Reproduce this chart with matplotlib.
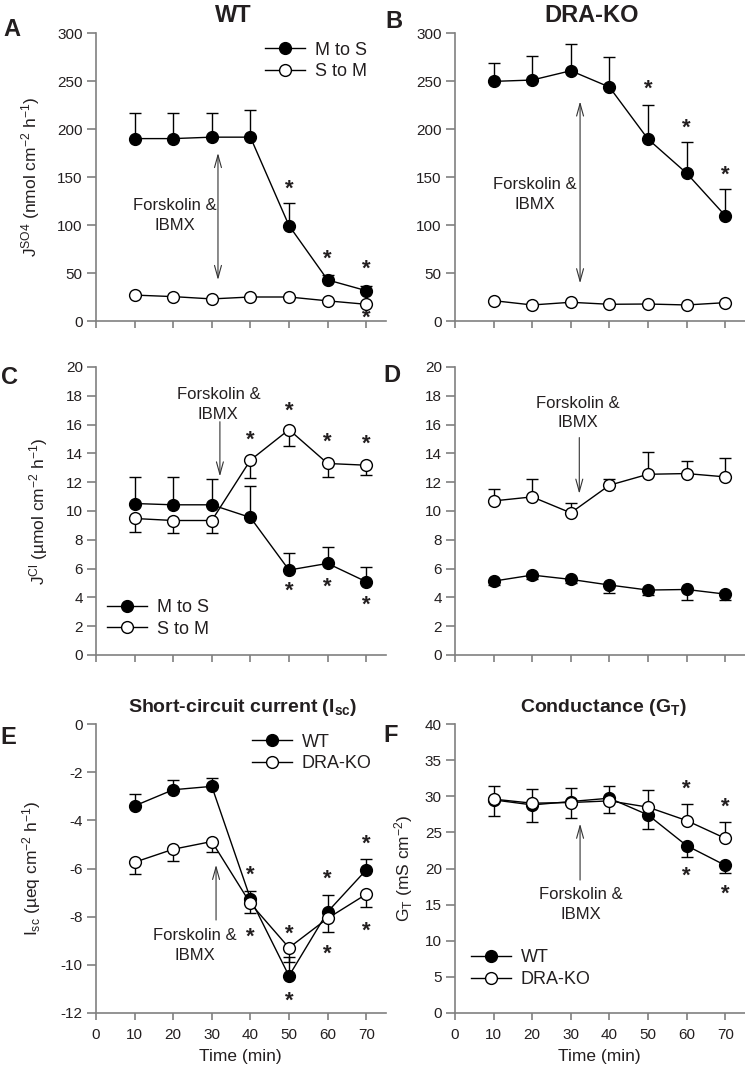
import matplotlib
matplotlib.use("Agg")
import matplotlib.pyplot as plt

plt.rcParams["font.family"] = ["Liberation Sans", "DejaVu Sans"]
plt.rcParams["mathtext.fontset"] = "custom"
plt.rcParams["mathtext.rm"] = "Liberation Sans"
plt.rcParams["mathtext.it"] = "Liberation Sans:italic"
plt.rcParams["mathtext.bf"] = "Liberation Sans:bold"
plt.rcParams["axes.unicode_minus"] = False

# --- Datos ---
time_min = [10, 20, 30, 40, 50, 60, 70]
time_ticks = [0, 10, 20, 30, 40, 50, 60, 70]

# A: flujo de sulfato, WT
so4_wt_ms = [190, 190, 191.5, 191.5, 99.4, 42.8, 31.6]
so4_wt_ms_up = [27, 27, 25, 28, 23, 5, 5]
so4_wt_sm = [27, 25.4, 23, 25, 25, 21, 17.4]
stars_a_x = [50, 60, 70, 70]
stars_a_y = [140, 67, 57, 6]

# B: flujo de sulfato, DRA-KO
so4_ko_ms = [249.6, 251, 260.7, 243.7, 189.5, 154, 109.8]
so4_ko_ms_up = [19, 25, 28, 31, 35, 32, 28]
so4_ko_sm = [21.2, 16.7, 19.5, 17.4, 17.7, 16.7, 19.1]
stars_b_x = [50, 60, 70]
stars_b_y = [244, 203, 154]

# C: flujo de cloruro, WT
cl_wt_ms = [10.52, 10.43, 10.43, 9.55, 5.9, 6.36, 5.09]
cl_wt_ms_up = [1.85, 1.94, 1.77, 2.22, 1.15, 1.11, 0.99]
cl_wt_sm = [9.48, 9.34, 9.34, 13.53, 15.65, 13.3, 13.18]
cl_wt_sm_lo = [0.97, 0.9, 0.9, 1.21, 1.15, 0.95, 0.65]
stars_c_x = [40, 50, 60, 70, 50, 60, 70]
stars_c_y = [15.1, 17.1, 14.95, 14.8, 4.6, 4.85, 3.6]

# D: flujo de cloruro, DRA-KO
cl_ko_ms = [5.13, 5.55, 5.25, 4.86, 4.51, 4.55, 4.23]
cl_ko_ms_lo = [0.27, 0.3, 0.28, 0.58, 0.37, 0.71, 0.39]
cl_ko_sm = [10.7, 10.98, 9.87, 11.79, 12.55, 12.6, 12.37]
cl_ko_sm_up = [0.86, 1.25, 0.7, 0.46, 1.55, 0.88, 1.34]

# E: corriente de cortocircuito
isc_wt = [-3.40, -2.73, -2.59, -7.25, -10.46, -7.8, -6.06]
isc_wt_up = [0.49, 0.41, 0.33, 0.3, 0.8, 0.7, 0.44]
isc_ko = [-5.74, -5.2, -4.88, -7.45, -9.29, -8.07, -7.07]
isc_ko_lo = [0.49, 0.47, 0.42, 0.4, 0.58, 0.55, 0.54]
stars_e_x = [40, 40, 50, 50, 60, 60, 70, 70]
stars_e_y = [-6.17, -8.77, -8.63, -11.4, -6.34, -9.46, -4.88, -8.49]

# F: conductancia
gt_wt = [29.5, 28.8, 29.27, 29.73, 27.42, 23.17, 20.44]
gt_wt_up = [1.85, 2.2, 1.9, 1.72, 0, 0, 0]
gt_wt_lo = [2.2, 2.4, 2.27, 2.08, 1.89, 1.57, 1.11]
gt_ko = [29.6, 29.04, 29.13, 29.36, 28.49, 26.64, 24.18]
gt_ko_up = [0, 0, 0, 0, 2.31, 2.31, 2.22]
stars_f_x = [60, 60, 70, 70]
stars_f_y = [31.35, 19.33, 28.8, 16.8]

ZEROS = [0] * len(time_min)
AXIS_GRAY = "#808080"
TEXT_DARK = "#231f20"
FIG_W, FIG_H = 745, 1080


def px_axes(left, top, right, bottom):
    return [left / FIG_W, 1 - bottom / FIG_H, (right - left) / FIG_W, (bottom - top) / FIG_H]


def style_axes(ax, ylim, yticks, show_xlabels):
    ax.set_xlim(0, 75)
    ax.set_ylim(*ylim)
    ax.set_xticks(time_ticks)
    ax.set_yticks(yticks)
    for side in ("top", "right"):
        ax.spines[side].set_visible(False)
    for side in ("left", "bottom"):
        ax.spines[side].set_color(AXIS_GRAY)
        ax.spines[side].set_linewidth(1.2)
    ax.tick_params(direction="out", color=AXIS_GRAY, width=1.2,
                   labelsize=11, labelcolor=TEXT_DARK)
    ax.tick_params(axis="y", length=6.5, pad=3)
    ax.tick_params(axis="x", length=5, pad=6, labelbottom=show_xlabels)
    if show_xlabels:
        ax.set_xlabel("Time (min)", fontsize=12.5, color=TEXT_DARK)
        ax.xaxis.set_label_coords(0.5, -0.125)
        ax.xaxis.label.set_va("top")


def draw_series(ax, y, lo, hi, filled, label):
    ax.errorbar(time_min, y, yerr=[lo, hi], fmt="none", ecolor="k",
                elinewidth=1, capsize=4.5, capthick=1, zorder=2)
    ax.plot(time_min, y, color="k", lw=1, marker="o", ms=8.5,
            mfc="k" if filled else "white", mec="k", mew=1,
            zorder=3 if filled else 4, label=label)


def draw_stars(ax, xs, ys):
    for x, y in zip(xs, ys):
        ax.text(x, y, "*", ha="center", va="center_baseline", fontsize=16,
                fontweight="bold", color=TEXT_DARK)


def treatment_label(ax, x, y):
    ax.text(x, y, "Forskolin &\nIBMX", ha="center", va="center",
            fontsize=12, color=TEXT_DARK, linespacing=1.4)


def arrow(ax, x, y_from, y_to, style):
    ax.annotate("", xy=(x, y_to), xytext=(x, y_from),
                arrowprops=dict(arrowstyle=style + ",head_length=0.9,head_width=0.25",
                                color="#333333", lw=0.8, shrinkA=0, shrinkB=0))


def legend(ax, x, y):
    ax.legend(loc="upper left", bbox_to_anchor=(x, y), frameon=False,
              fontsize=13, handlelength=2.2, handletextpad=0.55,
              labelspacing=0.25, borderpad=0, borderaxespad=0,
              labelcolor=TEXT_DARK)


fig = plt.figure(figsize=(FIG_W / 100, FIG_H / 100), dpi=100)

ax_a = fig.add_axes(px_axes(96, 33, 385.5, 321))
ax_b = fig.add_axes(px_axes(455, 33, 744.5, 321))
ax_c = fig.add_axes(px_axes(96, 367, 385.5, 655))
ax_d = fig.add_axes(px_axes(455, 367, 744.5, 655))
ax_e = fig.add_axes(px_axes(96, 724, 385.5, 1013))
ax_f = fig.add_axes(px_axes(455, 724, 744.5, 1013))

# --- A ---
draw_series(ax_a, so4_wt_ms, ZEROS, so4_wt_ms_up, True, "M to S")
draw_series(ax_a, so4_wt_sm, ZEROS, ZEROS, False, "S to M")
style_axes(ax_a, (0, 300), range(0, 301, 50), False)
draw_stars(ax_a, stars_a_x, stars_a_y)
arrow(ax_a, 31.6, 175, 42.7, "<->")
treatment_label(ax_a, 20.5, 109.5)
legend(ax_a, 0.584, 0.97)
ax_a.set_ylabel(r"J$^{\mathrm{SO4}}$ (nmol cm$^{-2}$ h$^{-1}$)", fontsize=12.5,
                color=TEXT_DARK)
ax_a.yaxis.set_label_coords(-0.187, 0.5)

# --- B ---
draw_series(ax_b, so4_ko_ms, ZEROS, so4_ko_ms_up, True, "M to S")
draw_series(ax_b, so4_ko_sm, ZEROS, ZEROS, False, "S to M")
style_axes(ax_b, (0, 300), range(0, 301, 50), False)
draw_stars(ax_b, stars_b_x, stars_b_y)
arrow(ax_b, 32.4, 228.7, 39.3, "<->")
treatment_label(ax_b, 20.8, 132)

# --- C ---
draw_series(ax_c, cl_wt_ms, ZEROS, cl_wt_ms_up, True, "M to S")
draw_series(ax_c, cl_wt_sm, cl_wt_sm_lo, ZEROS, False, "S to M")
style_axes(ax_c, (0, 20), range(0, 21, 2), False)
draw_stars(ax_c, stars_c_x, stars_c_y)
arrow(ax_c, 32.1, 16.2, 12.4, "->")
treatment_label(ax_c, 31.7, 17.4)
legend(ax_c, 0.038, 0.194)
ax_c.set_ylabel(r"J$^{\mathrm{Cl}}$ (µmol cm$^{-2}$ h$^{-1}$)", fontsize=12.5,
                color=TEXT_DARK)
ax_c.yaxis.set_label_coords(-0.159, 0.5)

# --- D ---
draw_series(ax_d, cl_ko_ms, cl_ko_ms_lo, ZEROS, True, "M to S")
draw_series(ax_d, cl_ko_sm, ZEROS, cl_ko_sm_up, False, "S to M")
style_axes(ax_d, (0, 20), range(0, 21, 2), False)
arrow(ax_d, 32.2, 15.1, 11.2, "->")
treatment_label(ax_d, 31.9, 16.8)

# --- E ---
draw_series(ax_e, isc_wt, ZEROS, isc_wt_up, True, "WT")
draw_series(ax_e, isc_ko, isc_ko_lo, ZEROS, False, "DRA-KO")
style_axes(ax_e, (-12, 0), range(-12, 1, 2), True)
draw_stars(ax_e, stars_e_x, stars_e_y)
arrow(ax_e, 31.1, -8.14, -5.85, "->")
treatment_label(ax_e, 25.6, -9.2)
legend(ax_e, 0.539, 0.967)
ax_e.set_ylabel(r"I$_{\mathrm{sc}}$ (µeq cm$^{-2}$ h$^{-1}$)", fontsize=12.5,
                color=TEXT_DARK)
ax_e.yaxis.set_label_coords(-0.183, 0.5)

# --- F ---
draw_series(ax_f, gt_wt, gt_wt_lo, gt_wt_up, True, "WT")
draw_series(ax_f, gt_ko, ZEROS, gt_ko_up, False, "DRA-KO")
style_axes(ax_f, (0, 40), range(0, 41, 5), True)
draw_stars(ax_f, stars_f_x, stars_f_y)
arrow(ax_f, 32.4, 18.4, 26.2, "->")
treatment_label(ax_f, 32.7, 15.0)
legend(ax_f, 0.055, 0.22)
ax_f.set_ylabel(r"G$_{\mathrm{T}}$ (mS cm$^{-2}$)", fontsize=12.5, color=TEXT_DARK)
ax_f.yaxis.set_label_coords(-0.138, 0.5)

# --- Títulos y letras de panel ---
def fig_text(x, y, s, size):
    fig.text(x / FIG_W, 1 - y / FIG_H, s, ha="center", va="center",
             fontsize=size, fontweight="bold", color=TEXT_DARK)


fig_text(233, 15, "WT", 17)
fig_text(592, 15, "DRA-KO", 17)
fig_text(243, 707, r"Short-circuit current (I$_{\mathbf{sc}}$)", 14)
fig_text(604, 707, r"Conductance (G$_{\mathbf{T}}$)", 14)
for letter, lx, ly in [("A", 12, 30), ("B", 394, 22), ("C", 9, 378),
                       ("D", 392, 376), ("E", 8, 737), ("F", 391, 736)]:
    fig_text(lx, ly, letter, 17)

fig.savefig("out.png", dpi=100)
